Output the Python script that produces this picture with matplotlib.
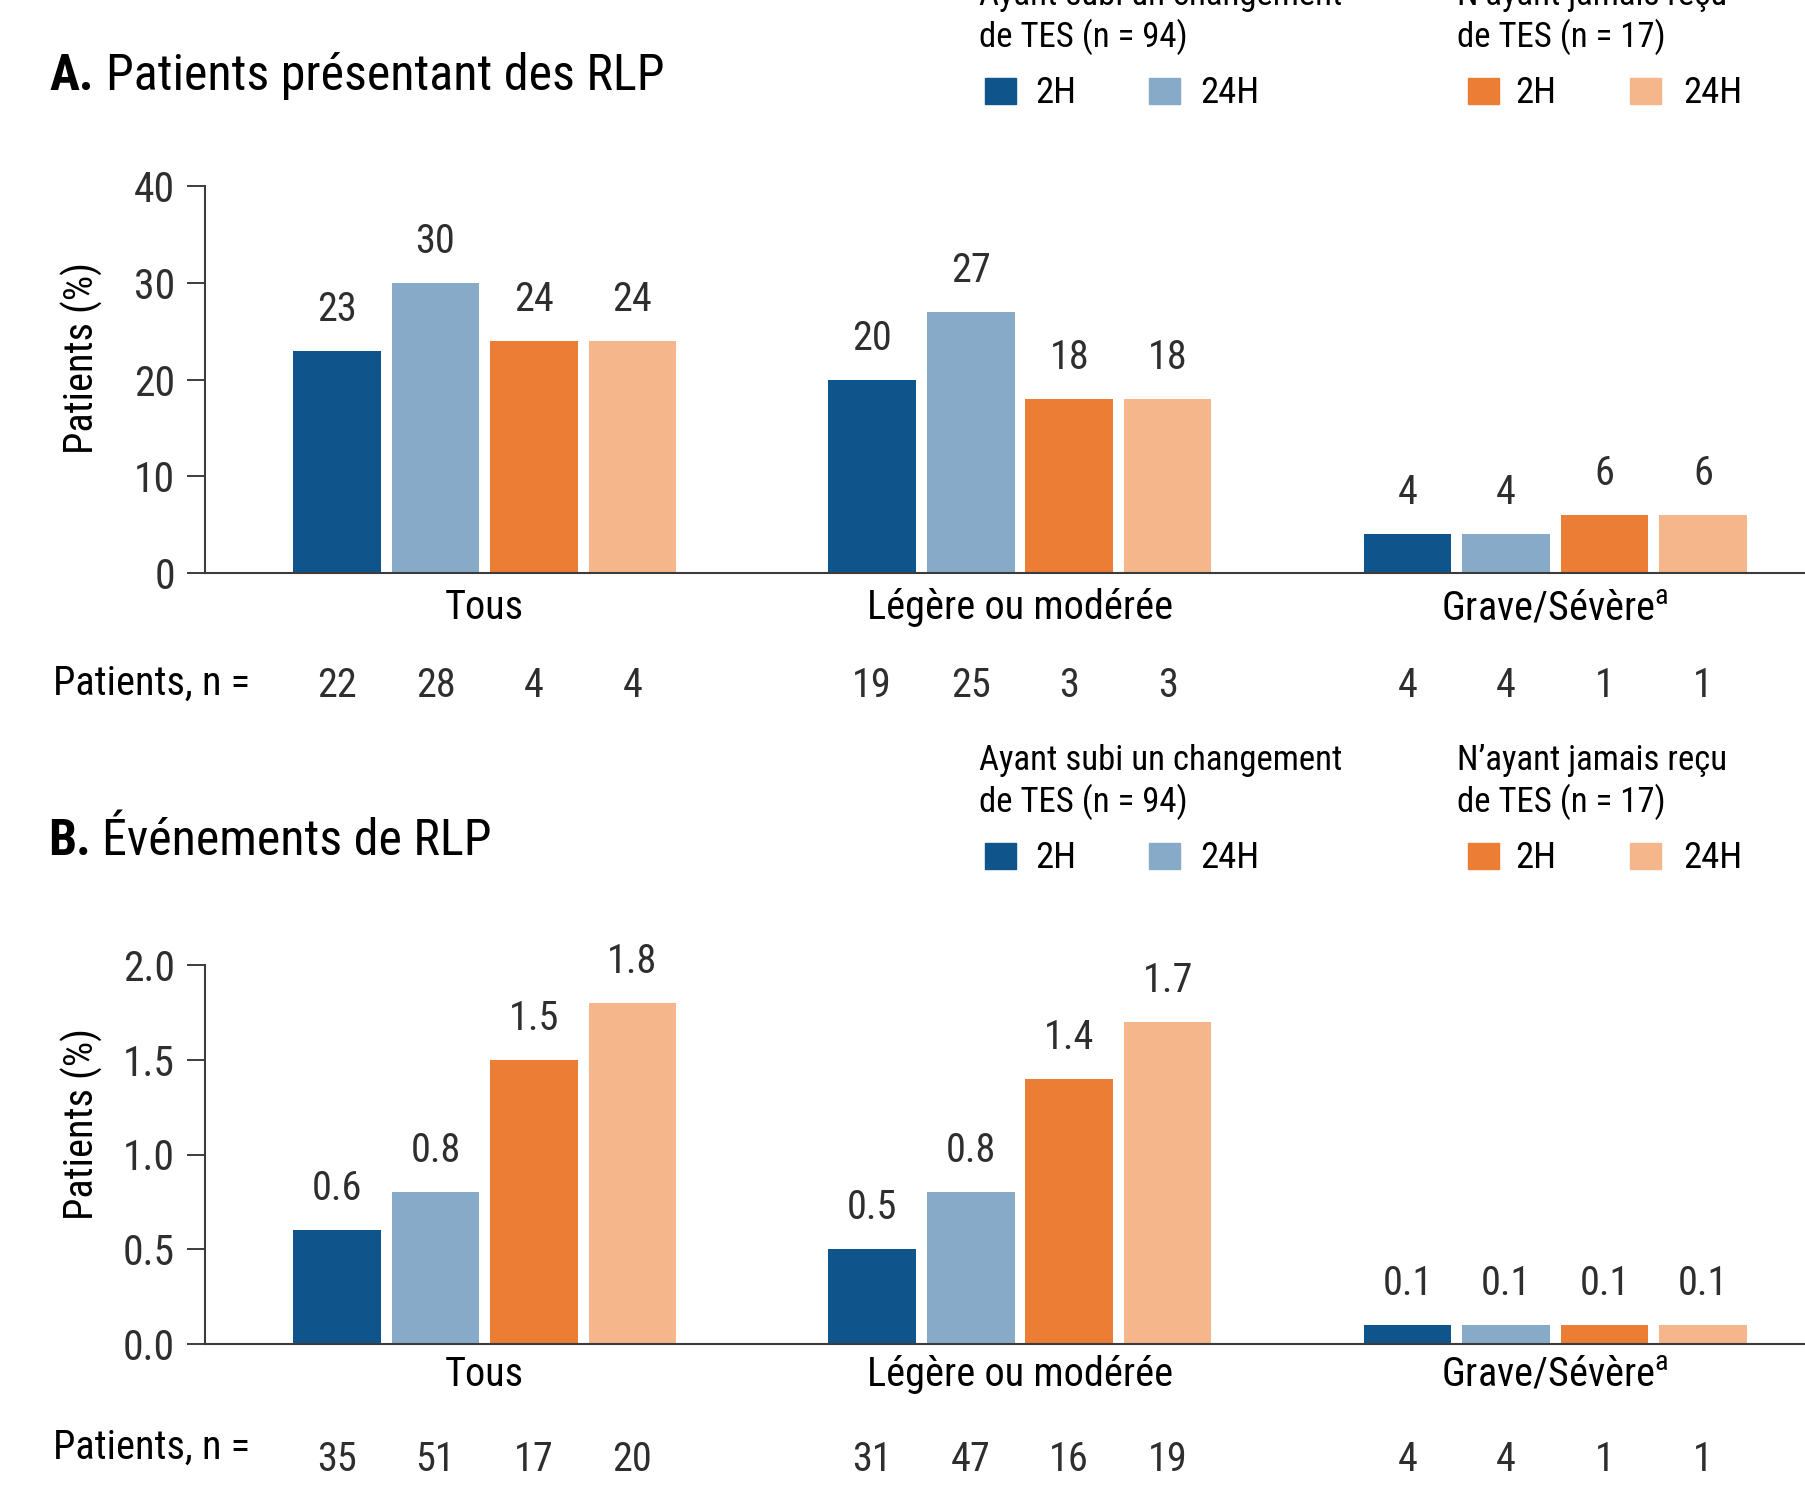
import matplotlib
matplotlib.use("Agg")
import matplotlib.pyplot as plt
from matplotlib import font_manager
from matplotlib.patches import Rectangle
import numpy as np

# ---------------------------------------------------------------- data
categories = ["Tous", "Légère ou modérée", "Grave/Sévère$^{\\mathrm{a}}$"]
series_labels = ["2H", "24H", "2H", "24H"]
group_switch = ["Ayant subi un changement", "de TES (n = 94)"]
group_naive = ["N\u2019ayant jamais reçu", "de TES (n = 17)"]

# Panel A: patients with PLR (%)
a_switch_2h = [23, 20, 4]
a_switch_24h = [30, 27, 4]
a_naive_2h = [24, 18, 6]
a_naive_24h = [24, 18, 6]
a_n_switch_2h = [22, 19, 4]
a_n_switch_24h = [28, 25, 4]
a_n_naive_2h = [4, 3, 1]
a_n_naive_24h = [4, 3, 1]

# Panel B: PLR events (%)
b_switch_2h = [0.6, 0.5, 0.1]
b_switch_24h = [0.8, 0.8, 0.1]
b_naive_2h = [1.5, 1.4, 0.1]
b_naive_24h = [1.8, 1.7, 0.1]
b_n_switch_2h = [35, 31, 4]
b_n_switch_24h = [51, 47, 4]
b_n_naive_2h = [17, 16, 1]
b_n_naive_24h = [20, 19, 1]

colors = ["#10548c", "#88aac9", "#ec7d34", "#f5b68c"]

# ---------------------------------------------------------------- style
available = {f.name for f in font_manager.fontManager.ttflist}
FONT = next((f for f in ["Liberation Sans Narrow", "Roboto Condensed",
                         "DejaVu Sans Condensed", "DejaVu Sans"] if f in available),
            "DejaVu Sans")
plt.rcParams["font.family"] = [FONT, "DejaVu Sans"]
plt.rcParams["mathtext.fontset"] = "custom"
plt.rcParams["mathtext.rm"] = FONT
plt.rcParams["mathtext.bf"] = FONT + ":bold"

W, H, DPI = 1806, 1487, 100
PT = 72.0 / DPI          # points per pixel
AXIS_COL = "#3c3c3c"
NUM_COL = "#2e2e2e"

fig = plt.figure(figsize=(W / DPI, H / DPI), dpi=DPI)


def fx(x):
    return x / W


def fy(y):
    return 1 - y / H


# bar geometry (group units)
BAR_W = 0.1635
BAR_STEP = 0.184
x_groups = np.arange(len(categories))
x_left, x_right = -0.5225, 2.4665


def panel(ax_top_px, ax_bot_px, ymax, yticks, ytick_fmt, values, counts,
          val_fmt, cat_gap_px, nrow_base_px, nlabel_base_px, ylabel_y_px):
    ax = fig.add_axes([fx(205), fy(ax_bot_px), fx(1805) - fx(205),
                       (ax_bot_px - ax_top_px) / H])
    for k, (vals, col) in enumerate(zip(values, colors)):
        xs = x_groups + (k - 1.5) * BAR_STEP
        ax.bar(xs, vals, width=BAR_W, color=col, edgecolor="none", zorder=2)
        for x, v in zip(xs, vals):
            ax.annotate(val_fmt.format(v), xy=(x, v), xytext=(0, 30 * PT),
                        textcoords="offset points", ha="center", va="baseline",
                        fontsize=29, color=NUM_COL)
        for x, n in zip(xs, counts[k]):
            ax.annotate(str(n), xy=(x, fy(nrow_base_px)),
                        xycoords=("data", "figure fraction"),
                        ha="center", va="baseline", fontsize=29, color=NUM_COL)
    for g, cat in zip(x_groups, categories):
        ax.annotate(cat, xy=(g, 0), xycoords=("data", "axes fraction"),
                    xytext=(0, -cat_gap_px * PT), textcoords="offset points",
                    ha="center", va="baseline", fontsize=29, color="black")
    ax.set_xlim(x_left, x_right)
    ax.set_ylim(0, ymax)
    ax.set_yticks(yticks)
    ax.set_yticklabels([ytick_fmt.format(t) for t in yticks])
    ax.set_xticks([])
    for side in ("top", "right"):
        ax.spines[side].set_visible(False)
    for side in ("left", "bottom"):
        ax.spines[side].set_color(AXIS_COL)
        ax.spines[side].set_linewidth(1.5)
    ax.tick_params(axis="y", length=13, width=1.4, pad=8.5, labelsize=30,
                   labelcolor=NUM_COL, color=AXIS_COL)
    ax.set_facecolor("none")
    fig.text(fx(82), fy(ylabel_y_px), "Patients (%)", rotation=90,
             ha="center", va="center", fontsize=29, color="black")
    fig.text(fx(53), fy(nlabel_base_px), "Patients, n =", ha="left",
             va="baseline", fontsize=29, color="black")
    return ax


def legend(dy):
    for lines, x0 in ((group_switch, 979), (group_naive, 1457)):
        for i, line in enumerate(lines):
            fig.text(fx(x0), fy(770 + 42 * i + dy), line, ha="left",
                     va="baseline", fontsize=25, color="black")
    patch_x = [985, 1149, 1468, 1630]
    text_x = [1035, 1200, 1515, 1683]
    for px_, tx, col, lab in zip(patch_x, text_x, colors, series_labels):
        fig.patches.append(Rectangle((fx(px_), fy(869 + dy)), 31 / W, 26 / H,
                                     transform=fig.transFigure, color=col))
        fig.text(fx(tx), fy(868 + dy), lab, ha="left", va="baseline",
                 fontsize=26.5, color="black")


def title(letter, text, base_px, letter_x, text_x):
    fig.text(fx(letter_x), fy(base_px), letter, ha="left", va="baseline",
             fontsize=36, fontweight="bold", color="black")
    fig.text(fx(text_x), fy(base_px), text, ha="left", va="baseline",
             fontsize=36, color="black")


# ---------------------------------------------------------------- panel A
panel(186.5, 573, 40, [0, 10, 20, 30, 40], "{:d}",
      [a_switch_2h, a_switch_24h, a_naive_2h, a_naive_24h],
      [a_n_switch_2h, a_n_switch_24h, a_n_naive_2h, a_n_naive_24h],
      "{:d}", 46, 697, 695, 358)
title("A.", "Patients présentant des RLP", 90, 49, 106)
legend(-765)

# ---------------------------------------------------------------- panel B
panel(965, 1344, 2.0, [0.0, 0.5, 1.0, 1.5, 2.0], "{:.1f}",
      [b_switch_2h, b_switch_24h, b_naive_2h, b_naive_24h],
      [b_n_switch_2h, b_n_switch_24h, b_n_naive_2h, b_n_naive_24h],
      "{:.1f}", 42, 1471, 1459, 1124)
title("B.", "Événements de RLP", 855, 48, 102)
legend(0)

fig.savefig("out.png", dpi=DPI, facecolor="white")
